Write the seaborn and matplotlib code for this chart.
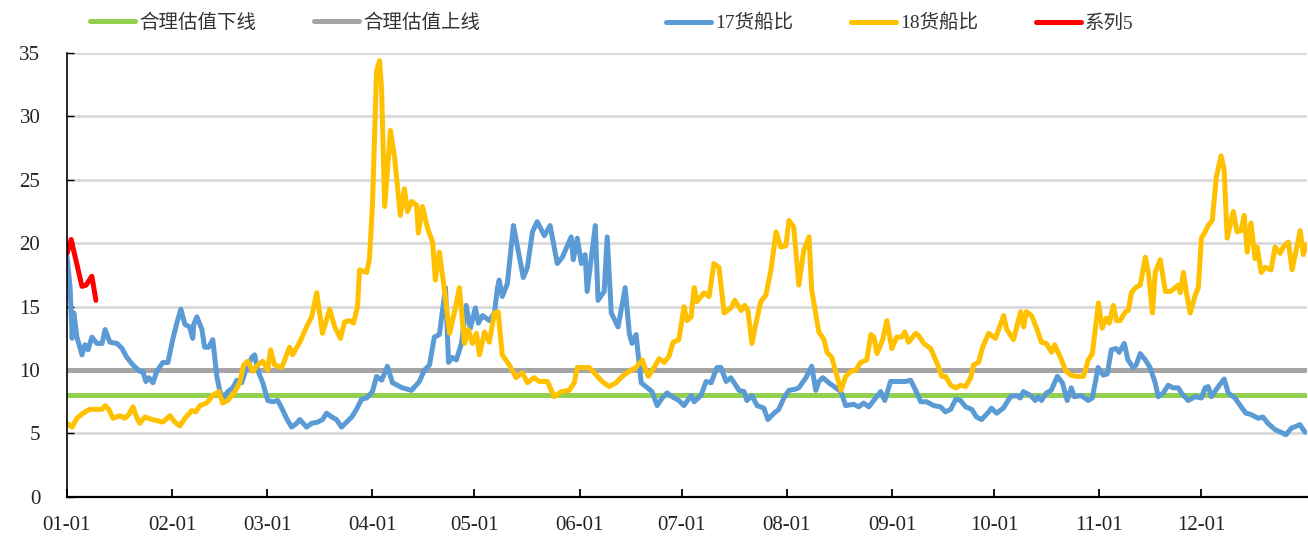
import pandas as pd
import seaborn as sns
import matplotlib.pyplot as plt
import matplotlib.dates as mdates

# x values are day offsets from 01-01 (non-leap year)
YEAR_START = "2018-01-01"

bound_day = [0, 365]
lower_val = [8, 8]     # 合理估值下线
upper_val = [10, 10]   # 合理估值上线

ship17_day = [
    0.1, 1.0, 1.6, 2.1, 3.0, 4.5, 5.4, 6.3, 7.4, 8.9,
    10.4, 11.3, 12.7, 14.8, 16.3, 17.7, 19.5, 21.5, 22.4, 23.3,
    24.2, 25.4, 26.5, 28.3, 29.8, 31.2, 32.4, 33.6, 34.8, 36.2,
    37.1, 37.4, 38.3, 39.8, 40.6, 41.8, 43.0, 44.2, 45.1, 46.2,
    47.4, 48.9, 50.1, 51.5, 53.0, 54.5, 55.3, 56.2, 57.7, 59.2,
    60.6, 62.1, 63.3, 64.7, 66.2, 67.7, 68.6, 70.6, 72.1, 73.9,
    75.3, 76.5, 78.0, 79.4, 80.9, 82.4, 83.9, 85.3, 86.8, 88.3,
    90.0, 91.2, 92.7, 94.4, 95.9, 98.8, 101.5, 103.8, 105.3, 106.8,
    108.2, 109.7, 111.5, 112.4, 113.5, 114.7, 116.2, 117.6, 118.8, 120.3,
    121.2, 122.4, 124.4, 125.9, 126.8, 127.3, 128.2, 129.7, 131.5, 134.4,
    135.6, 137.1, 138.5, 140.6, 142.3, 144.4, 145.9, 148.5, 149.1, 150.3,
    151.5, 152.6, 153.2, 155.6, 156.4, 158.2, 159.1, 160.3, 162.3, 164.4,
    165.6, 166.4, 167.6, 169.1, 172.3, 173.8, 175.3, 176.7, 178.2, 180.2,
    181.7, 183.8, 184.7, 186.7, 188.2, 189.7, 191.4, 192.6, 194.1, 195.5,
    197.9, 199.4, 200.2, 201.7, 203.2, 205.2, 206.4, 208.2, 209.6, 211.1,
    212.6, 214.6, 215.5, 217.6, 219.3, 220.5, 221.4, 222.6, 224.3, 226.4,
    227.9, 229.3, 231.7, 233.1, 234.6, 236.1, 238.1, 239.6, 240.8, 242.5,
    244.9, 246.9, 248.4, 249.9, 251.4, 253.1, 255.2, 257.2, 258.7, 260.2,
    261.7, 263.1, 264.6, 266.4, 267.8, 269.3, 271.4, 272.2, 273.7, 275.7,
    277.8, 279.6, 280.7, 281.6, 283.7, 285.1, 286.0, 286.9, 288.4, 289.8,
    291.6, 293.1, 294.5, 295.7, 296.6, 298.6, 300.7, 301.9, 303.6, 305.1,
    306.3, 307.5, 308.9, 309.8, 311.3, 312.4, 313.9, 314.8, 316.0, 317.5,
    318.9, 320.4, 321.3, 322.8, 324.2, 325.7, 327.2, 328.1, 330.1, 332.2,
    334.0, 335.1, 336.0, 336.9, 339.0, 340.7, 341.9, 343.9, 345.7, 347.1,
    348.6, 350.7, 352.1, 353.6, 355.7, 357.4, 358.9, 360.4, 363.0, 364.5,
]
ship17_val = [
    18.9, 16.5, 12.5, 14.5, 12.6, 11.2, 12.0, 11.6, 12.6, 12.1,
    12.1, 13.2, 12.2, 12.1, 11.7, 11.0, 10.4, 9.9, 9.9, 9.1,
    9.4, 9.0, 9.9, 10.6, 10.6, 12.4, 13.7, 14.8, 13.6, 13.4,
    12.5, 13.6, 14.2, 13.2, 11.8, 11.8, 12.4, 9.5, 8.3, 7.8,
    8.3, 8.6, 9.2, 9.0, 10.2, 11.0, 11.2, 10.0, 9.0, 7.6,
    7.5, 7.6, 7.0, 6.2, 5.5, 5.8, 6.1, 5.5, 5.8, 5.9,
    6.1, 6.6, 6.3, 6.1, 5.5, 5.9, 6.3, 6.9, 7.7, 7.8,
    8.3, 9.5, 9.2, 10.3, 9.0, 8.6, 8.4, 9.1, 10.0, 10.4,
    12.6, 12.8, 16.5, 10.6, 11.0, 10.8, 12.1, 15.1, 13.3, 14.9,
    13.7, 14.3, 13.9, 14.5, 16.5, 17.1, 15.8, 16.8, 21.4, 17.3,
    18.1, 20.9, 21.7, 20.6, 21.4, 18.4, 18.9, 20.5, 18.7, 20.4,
    18.4, 19.1, 16.2, 21.4, 15.5, 16.2, 20.5, 14.5, 13.4, 16.5,
    12.9, 12.1, 12.8, 9.0, 8.3, 7.2, 7.8, 8.2, 7.9, 7.6,
    7.2, 8.0, 7.5, 8.0, 9.1, 9.0, 10.2, 10.2, 9.1, 9.4,
    8.4, 8.3, 7.6, 8.0, 7.2, 7.0, 6.1, 6.6, 6.9, 7.8,
    8.4, 8.5, 8.6, 9.4, 10.3, 8.4, 9.1, 9.4, 9.0, 8.6,
    8.3, 7.2, 7.3, 7.1, 7.4, 7.1, 7.8, 8.3, 7.6, 9.1,
    9.1, 9.1, 9.2, 8.4, 7.5, 7.5, 7.2, 7.1, 6.7, 6.9,
    7.7, 7.6, 7.1, 6.9, 6.3, 6.1, 6.7, 7.0, 6.6, 7.0,
    7.9, 8.0, 7.8, 8.3, 8.0, 7.6, 7.9, 7.6, 8.2, 8.4,
    9.5, 9.0, 7.6, 8.6, 7.9, 8.0, 7.6, 7.8, 10.2, 9.6,
    9.7, 11.6, 11.7, 11.4, 12.1, 10.8, 10.2, 10.4, 11.3, 10.8,
    10.2, 9.0, 7.9, 8.2, 8.8, 8.6, 8.6, 8.2, 7.6, 7.9,
    7.8, 8.6, 8.7, 7.9, 8.7, 9.3, 8.2, 7.8, 7.1, 6.6,
    6.5, 6.2, 6.3, 5.8, 5.3, 5.1, 4.9, 5.4, 5.7, 5.1,
]

ship18_day = [
    0.1, 1.6, 3.0, 4.8, 6.8, 8.9, 10.4, 11.3, 12.4, 13.6,
    15.7, 17.1, 18.3, 19.5, 20.7, 21.5, 23.0, 25.1, 26.8, 28.3,
    30.4, 31.8, 33.3, 34.8, 36.8, 38.0, 39.2, 41.2, 43.0, 44.2,
    44.8, 45.9, 47.4, 49.5, 50.9, 52.1, 53.3, 54.8, 56.2, 57.7,
    59.2, 60.0, 61.2, 63.3, 65.6, 66.5, 68.6, 70.6, 72.1, 73.6,
    75.3, 77.4, 78.9, 80.6, 81.8, 83.3, 84.4, 85.6, 86.2, 88.3,
    89.1, 90.0, 91.2, 92.1, 92.7, 93.6, 95.3, 96.5, 98.2, 99.4,
    100.3, 101.5, 103.0, 103.5, 104.7, 106.2, 107.7, 108.5, 109.7, 111.2,
    112.7, 114.1, 115.6, 117.1, 118.2, 119.4, 120.6, 121.5, 123.0, 124.4,
    125.9, 127.0, 128.2, 130.3, 132.3, 134.1, 135.6, 137.6, 139.1, 141.5,
    143.5, 145.6, 147.9, 149.4, 150.3, 152.3, 153.8, 155.9, 157.6, 159.7,
    161.7, 163.5, 165.6, 167.6, 169.4, 171.2, 172.9, 174.4, 175.9, 177.3,
    178.5, 180.2, 181.7, 182.6, 183.8, 184.7, 185.5, 187.6, 189.1, 190.5,
    192.0, 193.5, 195.5, 196.7, 198.5, 199.6, 200.5, 201.7, 202.9, 204.3,
    205.8, 207.3, 208.8, 210.2, 211.7, 212.6, 214.0, 215.5, 217.0, 218.5,
    219.3, 221.4, 222.9, 223.8, 225.2, 227.9, 229.3, 230.8, 232.3, 233.7,
    235.5, 236.7, 237.6, 238.5, 240.2, 241.4, 242.9, 244.3, 245.8, 246.7,
    247.8, 249.9, 250.8, 252.3, 254.3, 256.1, 257.6, 258.7, 260.2, 261.7,
    263.1, 264.6, 266.1, 266.9, 268.4, 269.6, 271.4, 273.4, 275.8, 276.7,
    278.7, 280.8, 281.7, 282.5, 284.0, 285.5, 286.9, 288.4, 289.9, 290.8,
    292.5, 294.0, 295.5, 297.2, 299.3, 300.7, 301.9, 303.7, 304.8, 306.0,
    306.9, 308.1, 309.0, 310.1, 311.6, 312.5, 313.4, 314.6, 316.0, 317.5,
    318.4, 319.6, 320.4, 321.9, 323.4, 324.9, 326.3, 327.2, 327.8, 328.7,
    329.6, 330.7, 332.2, 333.1, 334.0, 335.1, 336.0, 337.2, 338.4, 339.8,
    340.7, 341.6, 343.4, 344.5, 345.7, 346.6, 347.5, 348.6, 349.8, 350.4,
    351.6, 352.8, 354.5, 355.7, 357.2, 358.1, 359.6, 360.7, 363.1, 364.0,
    364.9,
]
ship18_val = [
    5.8, 5.5, 6.2, 6.6, 6.9, 6.9, 6.9, 7.2, 6.9, 6.2,
    6.4, 6.2, 6.5, 7.1, 6.2, 5.8, 6.3, 6.1, 6.0, 5.9,
    6.4, 5.9, 5.6, 6.2, 6.8, 6.7, 7.2, 7.4, 8.0, 8.2,
    8.3, 7.4, 7.6, 8.3, 9.0, 10.4, 10.7, 9.9, 10.4, 10.7,
    10.0, 11.6, 10.4, 10.2, 11.8, 11.2, 12.2, 13.4, 14.2, 16.1,
    12.9, 14.8, 13.4, 12.5, 13.8, 13.9, 13.7, 15.0, 17.9, 17.7,
    18.7, 23.0, 33.6, 34.4, 32.1, 22.9, 28.9, 26.8, 22.2, 24.3,
    22.5, 23.3, 23.0, 20.8, 22.9, 21.2, 20.1, 17.1, 19.3, 16.3,
    12.9, 14.5, 16.5, 12.1, 13.2, 12.1, 12.9, 11.2, 13.0, 12.2,
    14.5, 14.6, 11.2, 10.4, 9.4, 9.8, 9.0, 9.4, 9.1, 9.1,
    7.9, 8.3, 8.4, 9.0, 10.2, 10.2, 10.2, 9.6, 9.1, 8.7,
    9.0, 9.5, 9.9, 10.2, 10.8, 9.5, 10.2, 10.9, 10.6, 11.1,
    12.2, 12.4, 15.0, 13.9, 14.2, 16.5, 15.4, 16.1, 15.8, 18.4,
    18.1, 14.5, 14.9, 15.5, 14.7, 15.1, 14.7, 12.1, 13.7, 15.4,
    15.9, 17.9, 20.9, 19.7, 19.8, 21.8, 21.3, 16.7, 19.5, 20.5,
    16.3, 13.0, 12.4, 11.4, 11.0, 8.4, 9.5, 9.9, 10.0, 10.6,
    10.8, 12.8, 12.6, 11.3, 12.4, 13.9, 11.7, 12.6, 12.6, 13.0,
    12.2, 12.9, 12.7, 12.1, 11.7, 10.6, 9.5, 9.5, 8.8, 8.6,
    8.8, 8.7, 9.4, 10.4, 10.6, 11.8, 12.9, 12.5, 14.3, 13.2,
    12.4, 14.6, 13.4, 14.6, 14.3, 13.3, 12.2, 12.1, 11.4, 12.0,
    11.0, 10.0, 9.6, 9.5, 9.5, 10.8, 11.3, 15.3, 13.3, 14.1,
    13.7, 15.1, 13.9, 13.9, 14.6, 14.7, 16.1, 16.5, 16.7, 18.9,
    17.7, 14.5, 17.7, 18.7, 16.2, 16.2, 16.5, 16.7, 16.1, 17.7,
    16.1, 14.5, 15.9, 16.5, 20.4, 20.9, 21.4, 21.8, 25.2, 26.9,
    25.8, 20.4, 22.5, 20.9, 21.0, 22.2, 19.3, 21.6, 18.8, 19.7,
    17.7, 18.1, 17.9, 19.7, 19.2, 19.7, 20.1, 17.9, 21.0, 19.1,
    19.9,
]

series5_day = [0.1, 1.3, 4.5, 5.7, 7.4, 8.6]
series5_val = [19.2, 20.3, 16.6, 16.7, 17.4, 15.5]


def to_dates(days):
    return pd.Timestamp(YEAR_START) + pd.to_timedelta(days, unit="D")


sns.set_theme(style="white")
plt.rcParams["font.family"] = ["Liberation Serif", "Noto Sans CJK SC"]

fig = plt.figure(figsize=(13.08, 5.36), dpi=100)
ax = fig.add_axes([0.051, 0.073, 0.948, 0.828])

series = [
    (bound_day, lower_val, "合理估值下线", "#92d050", 3.6),
    (bound_day, upper_val, "合理估值上线", "#a5a5a5", 3.6),
    (ship17_day, ship17_val, "17货船比", "#5b9bd5", 2.8),
    (ship18_day, ship18_val, "18货船比", "#ffc000", 2.8),
    (series5_day, series5_val, "系列5", "#ff0000", 2.3),
]
for days, vals, name, color, lw in series:
    sns.lineplot(x=to_dates(days), y=vals, ax=ax, color=color, linewidth=lw,
                 label=name, estimator=None, sort=False,
                 solid_joinstyle="round", solid_capstyle="round")

ax.set_xlim(to_dates([0])[0], to_dates([365])[0])
ax.set_ylim(0, 35)
ax.set_yticks(range(0, 36, 5))
ax.set_xticks(pd.date_range(YEAR_START, periods=12, freq="MS"))
ax.xaxis.set_major_formatter(mdates.DateFormatter("%m-%d"))
ax.set_xlabel("")
ax.set_ylabel("")

ax.yaxis.grid(True, color="#d9d9d9", linewidth=2)
ax.set_axisbelow(True)
for side in ["top", "right"]:
    ax.spines[side].set_visible(False)
ax.spines["left"].set_color("black")
ax.spines["left"].set_linewidth(1.2)
ax.spines["bottom"].set_color("black")
ax.spines["bottom"].set_linewidth(1.6)
ax.tick_params(axis="y", direction="in", length=5, width=1, color="black",
               left=True, pad=19, labelsize=15, labelcolor="#222222")
ax.tick_params(axis="x", direction="in", length=6, width=1.3, color="black",
               bottom=True, pad=14, labelsize=15, labelcolor="#222222")

handles, labels = ax.get_legend_handles_labels()
for h in handles:
    h.set_linewidth(3.6)
leg_kw = dict(frameon=False, fontsize=14, handlelength=2.3, handletextpad=0.2,
              columnspacing=3.0, loc="center", bbox_transform=fig.transFigure,
              labelcolor="#333333")
leg1 = ax.legend(handles[:2], labels[:2], ncol=2, bbox_to_anchor=(0.218, 0.957), **leg_kw)
ax.add_artist(leg1)
ax.legend(handles[2:], labels[2:], ncol=3, bbox_to_anchor=(0.688, 0.957), **leg_kw)

fig.savefig("out.png", dpi=100)
plt.close(fig)
